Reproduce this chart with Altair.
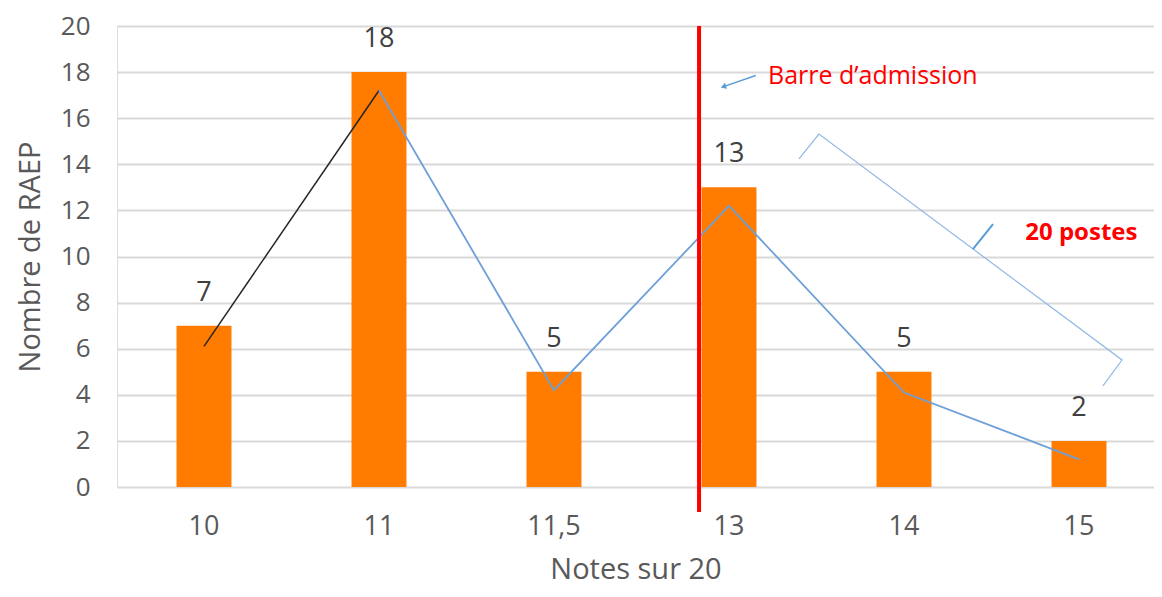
import altair as alt
import pandas as pd

notes = ["10", "11", "11,5", "13", "14", "15"]
counts = [7, 18, 5, 13, 5, 2]
trend = [6.1, 17.2, 4.2, 12.2, 4.1, 1.2]

# annotation geometry in (band-index units, count units)
admission_x = [3.326]
admission_y = [20.0]
admission_y2 = [-1.08]
arrow_u = [3.65, 3.47]
arrow_v = [17.85, 17.38]
brace_u = [3.897, 4.011, 5.743, 5.634]
brace_v = [14.24, 15.31, 5.51, 4.39]
tick_u = [4.891, 5.006]
tick_v = [10.32, 11.40]

FONT = "Open Sans"
GREY = "#595959"
W = 1037
H = 461
STEP = 175

df = pd.DataFrame({"note": notes, "n": counts, "t": trend})
black_seg = pd.DataFrame({"note": notes[:2], "t": trend[:2]})
blue_seg = pd.DataFrame({"note": notes[1:], "t": trend[1:]})

po = (W / STEP - 6 + 0.686) / 2
xscale = alt.Scale(domain=notes, paddingInner=0.686, paddingOuter=po, align=0.556)
yscale = alt.Scale(domain=[0, 20])
uscale = alt.Scale(domain=[0, W / STEP])

bars = alt.Chart(df).mark_bar(color="#FF7C00").encode(
    x=alt.X("note:N", scale=xscale, sort=notes,
            axis=alt.Axis(title="Notes sur 20", labelAngle=0, labelFontSize=27, titleFontSize=29,
                          labelColor=GREY, titleColor=GREY, labelFont=FONT, titleFont=FONT,
                          domain=False, ticks=False, labelPadding=26, titlePadding=16,
                          titleFontWeight="normal")),
    y=alt.Y("n:Q", scale=yscale,
            axis=alt.Axis(title="Nombre de RAEP", values=list(range(0, 21, 2)), labelFontSize=26,
                          titleFontSize=29, labelColor=GREY, titleColor=GREY, labelFont=FONT,
                          titleFont=FONT, domain=False, ticks=False, labelPadding=27,
                          titlePadding=15, grid=True, gridColor="#D9D9D9", gridWidth=2,
                          titleFontWeight="normal")),
)

labels = alt.Chart(df).mark_text(dy=-33, fontSize=27, font=FONT, color="#404040").encode(
    x=alt.X("note:N", scale=xscale, sort=notes),
    y=alt.Y("n:Q", scale=yscale),
    text=alt.Text("n:Q"),
)

line_black = alt.Chart(black_seg).mark_line(color="#262626", strokeWidth=1.5).encode(
    x=alt.X("note:N", scale=xscale, sort=notes),
    y=alt.Y("t:Q", scale=yscale),
)
line_blue = alt.Chart(blue_seg).mark_line(color="#6FA0D8", strokeWidth=1.8).encode(
    x=alt.X("note:N", scale=xscale, sort=notes),
    y=alt.Y("t:Q", scale=yscale),
)

adm = pd.DataFrame({"u": admission_x, "v": admission_y, "v2": admission_y2})
red_rule = alt.Chart(adm).mark_rule(color="#FF0000", strokeWidth=4).encode(
    x=alt.X("u:Q", scale=uscale, axis=None),
    y=alt.Y("v:Q", scale=yscale),
    y2="v2:Q",
)

arr = pd.DataFrame({"u": arrow_u, "v": arrow_v, "o": [0, 1]})
arrow_line = alt.Chart(arr).mark_line(color="#5B9BD5", strokeWidth=1.5).encode(
    x=alt.X("u:Q", scale=uscale, axis=None),
    y=alt.Y("v:Q", scale=yscale),
    order="o:Q",
)
arrow_head = alt.Chart(arr.iloc[[1]]).mark_point(
    shape="triangle", angle=249, size=40, filled=True, color="#5B9BD5", opacity=1
).encode(
    x=alt.X("u:Q", scale=uscale, axis=None),
    y=alt.Y("v:Q", scale=yscale),
)

adm_text = alt.Chart(pd.DataFrame({"u": [3.72], "v": [17.85], "s": ["Barre d’admission"]})).mark_text(
    align="left", baseline="middle", fontSize=25, font=FONT, color="#FF0000"
).encode(
    x=alt.X("u:Q", scale=uscale, axis=None),
    y=alt.Y("v:Q", scale=yscale),
    text="s:N",
)

br = pd.DataFrame({"u": brace_u, "v": brace_v, "o": list(range(4))})
brace = alt.Chart(br).mark_line(color="#8FB8E3", strokeWidth=1.2).encode(
    x=alt.X("u:Q", scale=uscale, axis=None),
    y=alt.Y("v:Q", scale=yscale),
    order="o:Q",
)
tk = pd.DataFrame({"u": tick_u, "v": tick_v, "o": [0, 1]})
brace_tick = alt.Chart(tk).mark_line(color="#5B9BD5", strokeWidth=2).encode(
    x=alt.X("u:Q", scale=uscale, axis=None),
    y=alt.Y("v:Q", scale=yscale),
    order="o:Q",
)
postes = alt.Chart(pd.DataFrame({"u": [5.19], "v": [11.0], "s": ["20 postes"]})).mark_text(
    align="left", baseline="middle", fontSize=24, font=FONT, fontWeight="bold", color="#FF0000"
).encode(
    x=alt.X("u:Q", scale=uscale, axis=None),
    y=alt.Y("v:Q", scale=yscale),
    text="s:N",
)

base = alt.layer(bars, labels, line_black, line_blue)
annot = alt.layer(red_rule, arrow_line, arrow_head, adm_text, brace, brace_tick, postes)

chart = alt.layer(base, annot).resolve_scale(x="independent").properties(
    width=W, height=H,
    autosize=alt.AutoSizeParams(type="none"),
    padding={"left": 109, "top": 18, "right": 0, "bottom": 102},
).configure_view(stroke=None).configure(background="white")

chart.save("out.html", embed_options={"renderer": "svg", "actions": False})
